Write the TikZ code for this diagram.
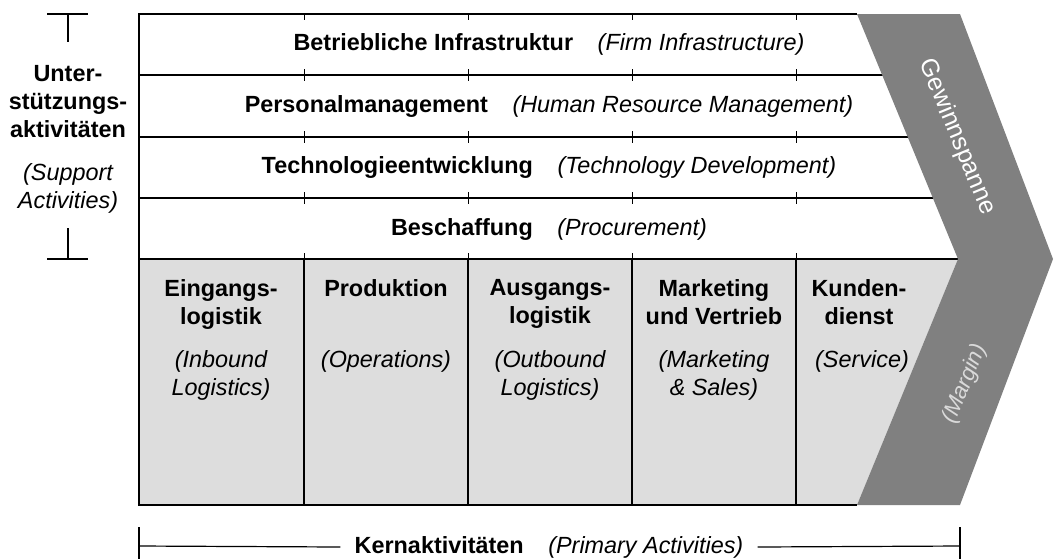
\documentclass[tikz,border=0pt]{standalone}
\usepackage{fontspec}
\setmainfont{Liberation Sans}
\usetikzlibrary{positioning}
\definecolor{marginGray}{HTML}{808080}
\definecolor{primFill}{HTML}{DDDDDD}
\definecolor{marginText}{HTML}{DADADA}
\newcommand{\labfont}{\fontsize{11.7}{13.9}\selectfont}

\begin{document}
\begin{tikzpicture}[x=0.5pt,y=-0.5pt,font=\labfont,
  frame/.style={line width=0.8pt},
  rowline/.style={line width=0.6pt},
  colmark/.style={line width=0.5pt},
  rowlabel/.style={inner sep=0pt},
  primtitle/.style={anchor=north,align=center,inner sep=0pt,font=\labfont\bfseries},
  primsub/.style={anchor=north,align=center,inner sep=0pt,font=\labfont\itshape}]
\useasboundingbox (0,0) rectangle (1054,559);
% primary activities area
\fill[primFill] (139,259) -- (958,259) -- (857,505) -- (139,505) -- cycle;
\draw[frame] (857,14) -- (139,14) -- (139,505) -- (857,505);
\foreach \ry in {75,137,198} \draw[rowline] (139,\ry) -- (945,\ry);
\draw[frame] (139,259) -- (958,259);
\foreach \cx in {304,468,632,796} {
  \draw[colmark] (\cx,14) -- (\cx,20);
  \foreach \ry in {75,137,198} \draw[colmark] (\cx,\ry-6) -- (\cx,\ry+6);
  \draw[colmark] (\cx,253) -- (\cx,259);
  \draw[frame] (\cx,259) -- (\cx,505);
}
% margin chevron
\fill[marginGray] (857,14) -- (960,14) -- (1053,259) -- (960,505) -- (857,505) -- (958,259) -- cycle;
\node[white,rotate=-67.6,font=\fontsize{12.4}{14}\selectfont] (gewinn) at (957,137) {Gewinnspanne};
\node[marginText,rotate=67.6,font=\fontsize{11.2}{13}\selectfont\itshape] (margin) at (965,384) {(Margin)};
% support activities
\node[rowlabel] (infra) at (549,44.5) {\textbf{Betriebliche Infrastruktur}\hspace{1.05em}\textit{(Firm Infrastructure)}};
\node[rowlabel] (hrm) at (549,106) {\textbf{Personalmanagement}\hspace{1.05em}\textit{(Human Resource Management)}};
\node[rowlabel] (tech) at (549,167.5) {\textbf{Technologieentwicklung}\hspace{1.05em}\textit{(Technology Development)}};
\node[rowlabel] (procure) at (549,229) {\textbf{Beschaffung}\hspace{1.05em}\textit{(Procurement)}};
% primary activities
\node[primtitle] (inlog) at (221,279) {Eingangs-\\logistik};
\node[primsub] (inlogen) at (221,350) {(Inbound\\Logistics)};
\node[primtitle] (ops) at (386,279) {Produktion};
\node[primsub] (opsen) at (386,350) {(Operations)};
\node[primtitle] (outlog) at (550,279) {Ausgangs-\\logistik};
\node[primsub] (outlogen) at (550,350) {(Outbound\\Logistics)};
\node[primtitle] (mksales) at (714,279) {Marketing\\und Vertrieb};
\node[primsub] (mksalesen) at (714,350) {(Marketing\\\&~Sales)};
\node[primtitle] (service) at (859,279) {Kunden-\\dienst};
\node[primsub] (serviceen) at (862,350) {(Service)};
% left bracket
\node[primtitle] (support) at (68,65) {Unter-\\stützungs-\\aktivitäten};
\node[primsub] (supporten) at (68,163) {(Support\\Activities)};
\coordinate (stopL) at (47,14); \coordinate (stopR) at (88,14);
\coordinate (stopM) at (68,14); \coordinate (stopE) at (68,42);
\coordinate (sbotL) at (47,259); \coordinate (sbotR) at (88,259);
\coordinate (sbotM) at (68,259); \coordinate (sbotE) at (68,228);
\draw[rowline] (stopL) -- (stopR);
\draw[rowline] (stopM) -- (stopE);
\draw[rowline] (sbotL) -- (sbotR);
\draw[rowline] (sbotM) -- (sbotE);
% bottom bracket
\node[inner sep=7pt] (primary) at (549,547) {\textbf{Kernaktivitäten}\hspace{1.05em}\textit{(Primary Activities)}};
\coordinate (pl) at (139,546); \coordinate (pr) at (960,546);
\draw[rowline] (139,527) -- (139,559);
\draw[rowline] (960,527) -- (960,559);
\draw[rowline] (pl) -- (primary.west);
\draw[rowline] (primary.east) -- (pr);
\end{tikzpicture}
\end{document}
